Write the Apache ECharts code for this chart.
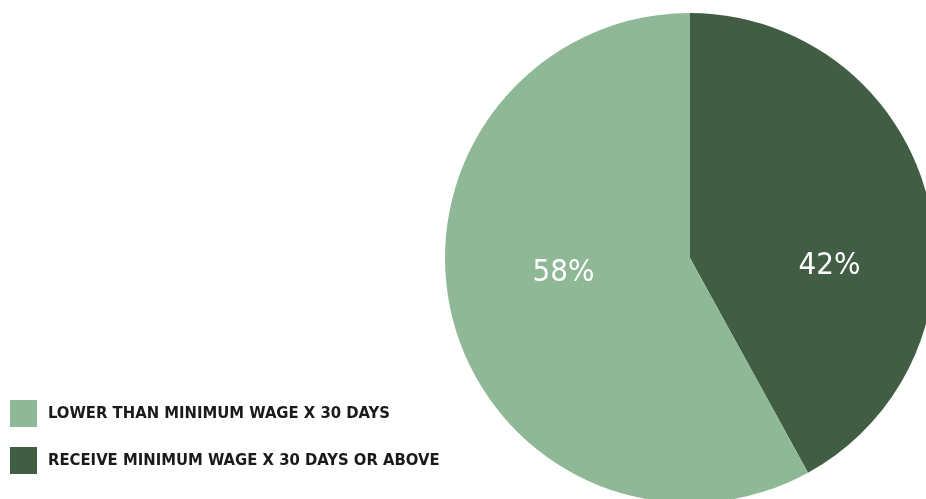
<!DOCTYPE html>
<html>
<head>
<meta charset="utf-8">
<script src="https://cdn.jsdelivr.net/npm/echarts@6/dist/echarts.min.js"></script>
<style>
  html, body { margin: 0; padding: 0; background: #fff; }
  #chart { width: 926px; height: 499px; }
</style>
</head>
<body>
<div id="chart"></div>
<script>
// Share of workers by monthly income relative to minimum wage
const categories = ['RECEIVE MINIMUM WAGE X 30 DAYS OR ABOVE', 'LOWER THAN MINIMUM WAGE X 30 DAYS'];
const values = [42, 58];
const colors = ['#415E45', '#8FB896'];
const legendOrder = ['LOWER THAN MINIMUM WAGE X 30 DAYS', 'RECEIVE MINIMUM WAGE X 30 DAYS OR ABOVE'];
const labelOffsets = [[18, 39], [-5, -16]];

const font = '"DejaVu Sans Condensed", "DejaVu Sans", sans-serif';

const chart = echarts.init(document.getElementById('chart'), null, { renderer: 'canvas' });
chart.setOption({
  animation: false,
  legend: {
    data: legendOrder,
    orient: 'vertical',
    left: 10,
    top: 400,
    padding: 0,
    itemWidth: 27,
    itemHeight: 27,
    itemGap: 20,
    selectedMode: false,
    icon: 'rect',
    textStyle: {
      fontFamily: font,
      fontWeight: 'bold',
      fontSize: 16.5,
      color: '#1a1a1a',
      padding: [0, 0, 0, 6]
    }
  },
  series: [{
    type: 'pie',
    center: [690, 258],
    radius: [0, 245],
    startAngle: 90,
    clockwise: true,
    silent: true,
    label: {
      show: true,
      position: 'inside',
      formatter: '{c}%',
      color: '#ffffff',
      fontFamily: font,
      fontSize: 31,
      fontWeight: 'normal'
    },
    labelLine: { show: false },
    itemStyle: { borderWidth: 0 },
    data: categories.map((name, i) => ({
      name: name,
      value: values[i],
      itemStyle: { color: colors[i] },
      label: { offset: labelOffsets[i] }
    }))
  }]
});
</script>
</body>
</html>
